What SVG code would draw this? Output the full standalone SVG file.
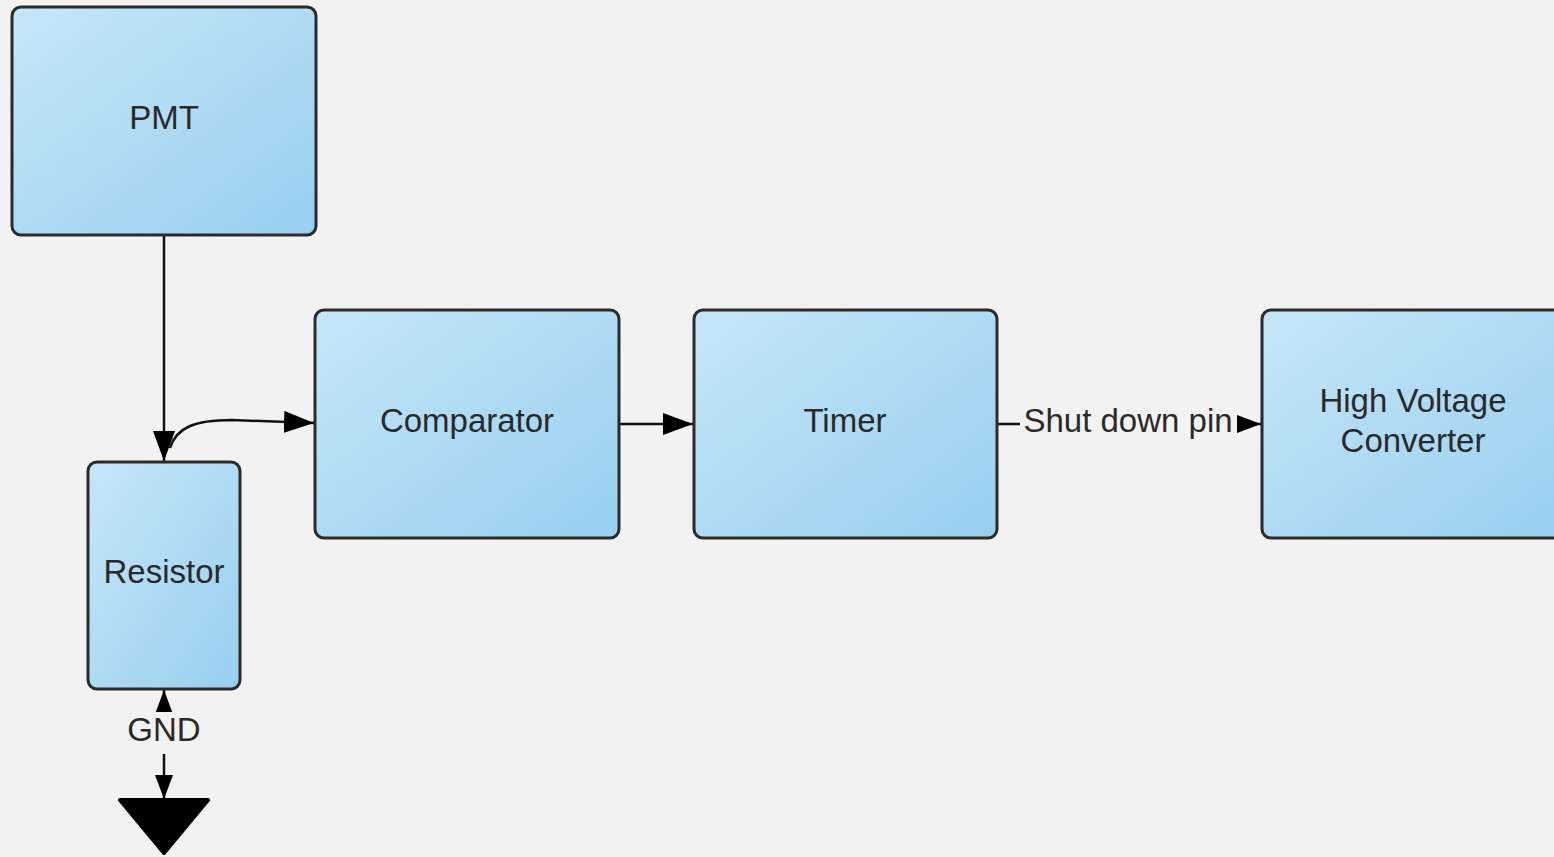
<svg xmlns="http://www.w3.org/2000/svg" width="1554" height="857" viewBox="0 0 1554 857">
<defs>
<linearGradient id="g" x1="0" y1="0" x2="1" y2="1">
<stop offset="0" stop-color="#c6e6f8"/>
<stop offset="1" stop-color="#97cfef"/>
</linearGradient>
<marker id="ahb" viewBox="0 0 10 10" refX="10" refY="5" markerWidth="30" markerHeight="22" markerUnits="userSpaceOnUse" orient="auto-start-reverse" preserveAspectRatio="none">
<path d="M0,0 L10,5 L0,10 Z" fill="#000"/>
</marker>
<marker id="ahs" viewBox="0 0 10 10" refX="10" refY="5" markerWidth="24" markerHeight="18" markerUnits="userSpaceOnUse" orient="auto-start-reverse" preserveAspectRatio="none">
<path d="M0,0 L10,5 L0,10 Z" fill="#000"/>
</marker>
</defs>
<style>
.box{fill:url(#g);stroke:#2b2b2b;stroke-width:3}
.t{font-family:"Liberation Sans",Arial,sans-serif;font-size:33px;fill:#2a2a2a;text-anchor:middle;dominant-baseline:central}
.c{fill:none;stroke:#111;stroke-width:2.5}
</style>
<rect width="1554" height="857" fill="#f2f2f2"/>
<g id="connectors">
<path class="c" d="M164,236 L164,461" marker-end="url(#ahb)"/>
<path class="c" d="M170,448 C176,428 194,420 232,420 L314,423" marker-end="url(#ahb)"/>
<path class="c" d="M620,424 L693,424" marker-end="url(#ahb)"/>
<path class="c" d="M998,424 L1261,424" marker-end="url(#ahs)"/>
<rect x="1020" y="402" width="217" height="38" fill="#f2f2f2"/>
<text class="t" x="1128" y="420">Shut down pin</text>
<path class="c" d="M164,690 L164,799" marker-start="url(#ahs)" marker-end="url(#ahs)"/>
<rect x="122" y="712" width="86" height="42" fill="#f2f2f2"/>
<text class="t" x="164" y="729">GND</text>
</g>
<g id="ground">
<path d="M120,800 L208,800 L164,853 Z" fill="#000" stroke="#000" stroke-width="4" stroke-linejoin="round"/>
</g>
<g id="pmt">
<rect class="box" x="12" y="7" width="304" height="228" rx="9"/>
<text class="t" x="164" y="117">PMT</text>
</g>
<g id="comparator">
<rect class="box" x="315" y="310" width="304" height="228" rx="9"/>
<text class="t" x="467" y="420">Comparator</text>
</g>
<g id="timer">
<rect class="box" x="694" y="310" width="303" height="228" rx="9"/>
<text class="t" x="845" y="420">Timer</text>
</g>
<g id="hvc">
<rect class="box" x="1262" y="310" width="304" height="228" rx="9"/>
<text class="t" x="1413" y="400">High Voltage</text>
<text class="t" x="1413" y="440">Converter</text>
</g>
<g id="resistor">
<rect class="box" x="88" y="462" width="152" height="227" rx="9"/>
<text class="t" x="164" y="571">Resistor</text>
</g>
</svg>
